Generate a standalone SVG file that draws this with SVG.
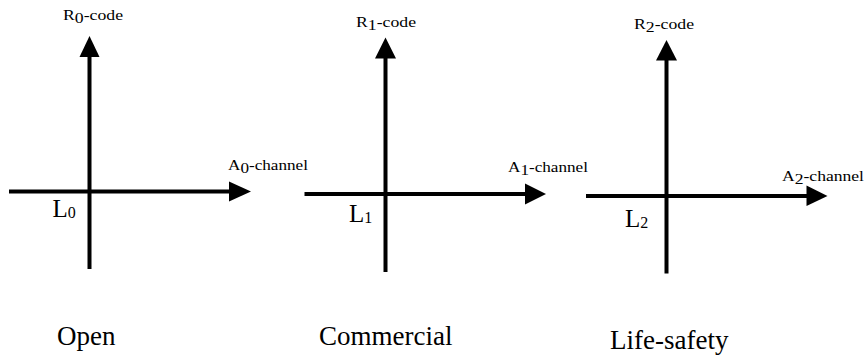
<svg xmlns="http://www.w3.org/2000/svg" width="866" height="356" viewBox="0 0 866 356" font-family="'Liberation Serif','Times New Roman',Times,'DejaVu Serif',serif">
<style>
.ax{stroke:#000;stroke-width:4;fill:none}
.ah{fill:#000;stroke:none}
text{font-family:'Liberation Serif','Times New Roman',Times,'DejaVu Serif',serif;fill:#000}
.sm{font-size:15px}
.lb{font-size:25px}
.tt{font-size:27px}
.sub{font-size:16px}
</style>
<rect width="866" height="356" fill="#fff"/>
<g id="connectors">
  <line class="ax" x1="89.5" y1="269" x2="89.5" y2="55"/>
  <polygon class="ah" points="89.5,36 79.5,57 99.5,57"/>
  <line class="ax" x1="9" y1="191.5" x2="231" y2="191.5"/>
  <polygon class="ah" points="251,191.5 229,181.5 229,201.5"/>

  <line class="ax" x1="385.5" y1="272" x2="385.5" y2="57"/>
  <polygon class="ah" points="385.5,37.5 375,58.5 396,58.5"/>
  <line class="ax" x1="304.5" y1="194" x2="527" y2="194"/>
  <polygon class="ah" points="546,194 525,183.5 525,204.5"/>

  <line class="ax" x1="666.5" y1="273.5" x2="666.5" y2="59"/>
  <polygon class="ah" points="666.5,40 656,60.5 677,60.5"/>
  <line class="ax" x1="586" y1="196" x2="808" y2="196"/>
  <polygon class="ah" points="827.5,196 806.5,185.5 806.5,206"/>
</g>
<g id="open">
  <text class="sm" x="63" y="20" textLength="60" lengthAdjust="spacingAndGlyphs">R<tspan dy="3">0</tspan><tspan dy="-3">-code</tspan></text>
  <text class="sm" x="228" y="170" textLength="80" lengthAdjust="spacingAndGlyphs">A<tspan dy="3">0</tspan><tspan dy="-3">-channel</tspan></text>
  <text class="lb" x="52.5" y="216.5">L<tspan class="sub" dy="1">0</tspan></text>
  <text class="tt" x="57" y="345">Open</text>
</g>
<g id="commercial">
  <text class="sm" x="356" y="27" textLength="60" lengthAdjust="spacingAndGlyphs">R<tspan dy="3">1</tspan><tspan dy="-3">-code</tspan></text>
  <text class="sm" x="508" y="172" textLength="80" lengthAdjust="spacingAndGlyphs">A<tspan dy="3">1</tspan><tspan dy="-3">-channel</tspan></text>
  <text class="lb" x="349" y="221.5">L<tspan class="sub" dy="1">1</tspan></text>
  <text class="tt" x="319" y="345">Commercial</text>
</g>
<g id="life-safety">
  <text class="sm" x="634" y="29" textLength="60" lengthAdjust="spacingAndGlyphs">R<tspan dy="3">2</tspan><tspan dy="-3">-code</tspan></text>
  <text class="sm" x="782" y="181" textLength="82" lengthAdjust="spacingAndGlyphs">A<tspan dy="3">2</tspan><tspan dy="-3">-channel</tspan></text>
  <text class="lb" x="625" y="226.5">L<tspan class="sub" dy="1">2</tspan></text>
  <text class="tt" x="610" y="349">Life-safety</text>
</g>
</svg>
